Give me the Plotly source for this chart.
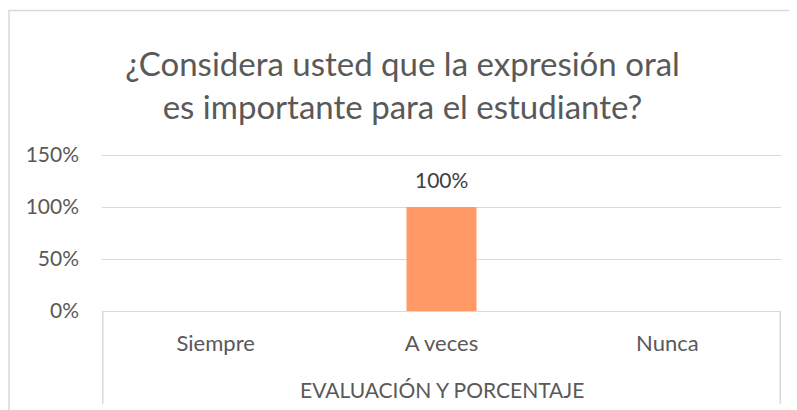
import plotly.graph_objects as go

categories = ["Siempre", "A veces", "Nunca"]
values = [None, 1.0, None]
value_labels = ["", "100%", ""]
title_lines = ["¿Considera usted que la expresión oral", "es importante para el estudiante?"]
x_title = "EVALUACIÓN Y PORCENTAJE"
y_ticks = [0, 0.5, 1.0, 1.5]
y_tick_labels = ["0%", "50%", "100%", "150%"]

FONT = "Lato"
GRAY = "#595959"
GRID = "#D9D9D9"

W, H = 789, 402
L, R, T, B = 94, 16, 145, 99
PH = H - T - B
PW = W - L - R

fig = go.Figure()
fig.add_trace(go.Bar(
    x=categories, y=values,
    marker=dict(color="#FF9966", line=dict(width=0)),
    width=0.31,
))

# data labels from the data
for c, v, lab in zip(categories, values, value_labels):
    if v is not None and lab:
        fig.add_annotation(x=c, y=v, xref="x", yref="y", text=lab, showarrow=False,
                           yanchor="bottom", yshift=13,
                           font=dict(family=FONT, size=21, color="#404040"))

fig.update_layout(
    width=W, height=H,
    margin=dict(l=L, r=R, t=T, b=B),
    paper_bgcolor="white", plot_bgcolor="white",
    showlegend=False,
    font=dict(family=FONT, color=GRAY),
    title=dict(text="<br>".join(title_lines), x=0.5, xanchor="center",
               y=1 - 68 / H, yanchor="middle", yref="container",
               font=dict(family=FONT, size=33, color=GRAY)),
)
fig.update_yaxes(range=[0, 1.52], tickvals=y_ticks, ticktext=y_tick_labels,
                 showgrid=True, gridcolor=GRID, gridwidth=1, zeroline=False,
                 showline=False, ticks="", ticklabelstandoff=22,
                 tickfont=dict(family=FONT, size=21, color=GRAY), fixedrange=True)
fig.update_xaxes(showgrid=False, showline=True, linecolor=GRID, linewidth=1,
                 ticks="", ticklabelstandoff=13,
                 tickfont=dict(family=FONT, size=22, color=GRAY),
                 fixedrange=True)

# axis title
fig.add_annotation(x=0.5, y=-78 / PH, xref="paper", yref="paper", text=x_title,
                   showarrow=False, xanchor="center", yanchor="middle",
                   font=dict(family=FONT, size=21, color=GRAY))

# category group separators
for xv in (-0.5, 2.5):
    fig.add_shape(type="line", xref="x", yref="paper", x0=xv, x1=xv, y0=0, y1=-93 / PH,
                  line=dict(color=GRID, width=1.5), layer="below")
# chart outer border
fig.add_shape(type="rect", xref="paper", yref="paper",
              x0=(1 - L) / PW, x1=(W + 20 - L) / PW,
              y0=-1.0, y1=(H - B - 2.5) / PH,
              line=dict(color=GRID, width=1.5), layer="below")

fig.write_html("out.html")
